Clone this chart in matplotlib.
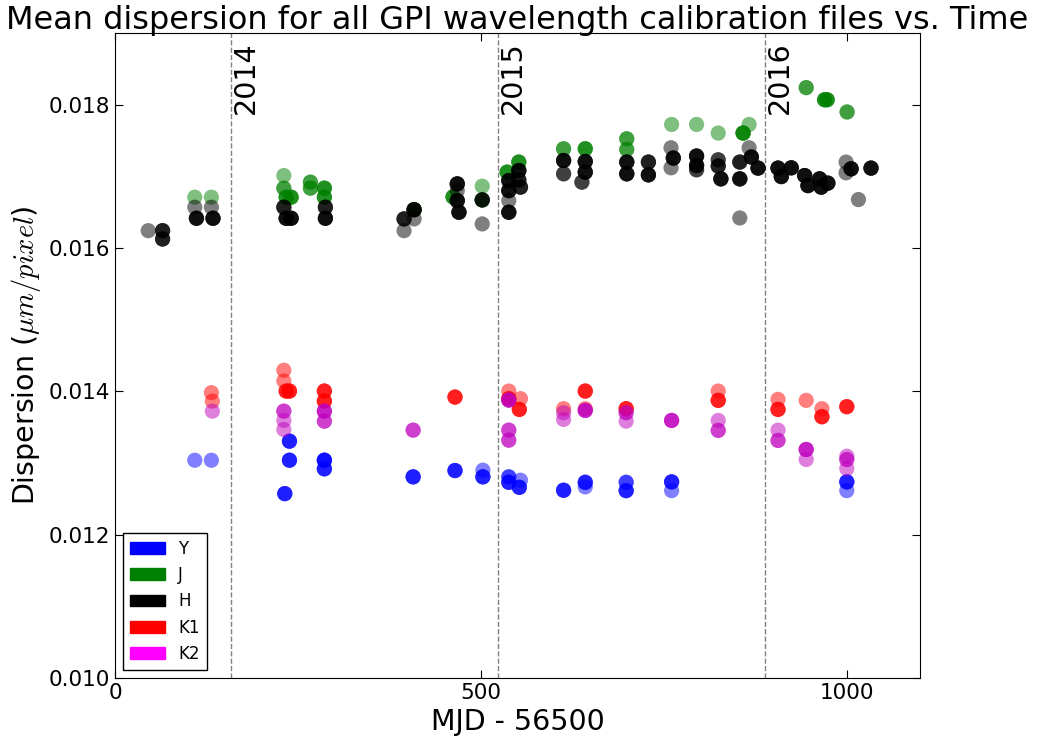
import matplotlib
matplotlib.use("Agg")
import matplotlib.pyplot as plt
import matplotlib.patches as mpatches
import numpy as np

# Each point: MJD-56500, mean dispersion, number of files at that value
y_mjd = [109, 131.7, 238.4, 238.4, 232, 286.1, 286.1, 407.4, 464.6, 502.7, 502.7,
         538.1, 538.1, 554.1, 552.5, 613, 642.6, 642.6, 698.5, 698.5, 760.6, 760.6,
         1000, 1000]
y_disp = [0.013039, 0.013039, 0.013305, 0.013039, 0.012573, 0.013039, 0.012919,
          0.012807, 0.012895, 0.012900, 0.012807, 0.012807, 0.012731, 0.012760,
          0.012661, 0.012620, 0.012731, 0.012667, 0.012731, 0.012615, 0.012737,
          0.012615, 0.012737, 0.012615]
y_n = [1, 1, 3, 3, 3, 4, 3, 3, 3, 1, 3, 2, 3, 1, 3, 3, 3, 1, 2, 3, 3, 1, 3, 1]

j_mjd = [109, 131.7, 230.7, 230.7, 233.9, 240.7, 267, 267, 286.1, 286.1, 408.7,
         461.9, 501.8, 501.8, 535.8, 551.8, 613, 642.6, 699.3, 699.3, 760.6, 794.7,
         824.3, 858.3, 866.5, 944.5, 969.6, 973.2, 1000.4]
j_disp = [0.016709, 0.016709, 0.017011, 0.016835, 0.016709, 0.016709, 0.016919,
          0.016835, 0.016835, 0.016709, 0.016535, 0.016713, 0.016863, 0.016671,
          0.017059, 0.017199, 0.017385, 0.017385, 0.017524, 0.017375, 0.017724,
          0.017724, 0.017604, 0.017604, 0.017724, 0.018238, 0.018069, 0.018069,
          0.017898]
j_n = [1, 1, 1, 2, 3, 3, 2, 2, 3, 3, 2, 3, 1, 2, 3, 3, 2, 3, 2, 2, 1, 1, 1, 4, 1,
       2, 3, 3, 2]

h_mjd = [45.4, 65, 65, 109, 131.7, 111.3, 133.9, 230.7, 233.9, 240.7, 287.5, 287.5,
         395, 395, 408.7, 408.7, 467.7, 467.7, 470, 467.7, 501.8, 501.8, 538.1,
         538.1, 538.1, 538.1, 551.8, 554.1, 551.8, 613, 613, 642.6, 642.6, 638,
         699.3, 699.3, 728.9, 728.9, 759.8, 762.9, 759.8, 794.7, 794.7, 794.7,
         824.3, 824.3, 827.9, 853.8, 853.8, 853.8, 866.5, 869.6, 878.7, 906, 910.5,
         924.1, 942.4, 946.9, 962.8, 965, 974.1, 999, 1005.9, 999, 1015.9, 1033.1]
h_disp = [0.016242, 0.016242, 0.016126, 0.016569, 0.016569, 0.016415, 0.016415,
          0.016569, 0.016415, 0.016415, 0.016569, 0.016415, 0.016242, 0.016406,
          0.016406, 0.016535, 0.016895, 0.016661, 0.016499, 0.016800, 0.016671,
          0.016336, 0.016499, 0.016661, 0.016801, 0.016941, 0.017081, 0.016849,
          0.016950, 0.017221, 0.017035, 0.017207, 0.017059, 0.016919, 0.017199,
          0.017035, 0.017199, 0.017021, 0.017399, 0.017255, 0.017119, 0.017283,
          0.017151, 0.017091, 0.017231, 0.017143, 0.016965, 0.017199, 0.016965,
          0.016419, 0.017399, 0.017269, 0.017115, 0.017115, 0.016997, 0.017119,
          0.017011, 0.016871, 0.016965, 0.016849, 0.016905, 0.017199, 0.017105,
          0.017049, 0.016676, 0.017115]
h_n = [1, 3, 3, 1, 1, 4, 4, 3, 4, 4, 3, 4, 1, 3, 1, 4, 4, 4, 4, 1, 3, 1, 4, 1, 4,
       4, 4, 3, 3, 4, 2, 4, 4, 2, 4, 4, 3, 4, 1, 4, 1, 4, 4, 2, 2, 3, 4, 3, 4, 1,
       1, 4, 4, 4, 4, 4, 4, 4, 4, 4, 4, 1, 4, 1, 1, 4]

k1_mjd = [131.7, 133, 230.7, 230.7, 233.9, 238.4, 286.1, 286.1, 464.6, 538.1, 538.1,
          554.1, 552.5, 613, 642.6, 642.6, 698.5, 824.3, 824.3, 906, 906, 944.5,
          966, 966, 1000]
k1_disp = [0.013982, 0.013864, 0.014294, 0.014144, 0.014004, 0.014004, 0.014004,
           0.013864, 0.013920, 0.014004, 0.013898, 0.013898, 0.013748, 0.013758,
           0.014004, 0.013758, 0.013758, 0.014004, 0.013874, 0.013888, 0.013748,
           0.013874, 0.013758, 0.013646, 0.013786]
k1_n = [1, 1, 1, 1, 3, 3, 3, 3, 3, 1, 3, 1, 3, 1, 3, 1, 3, 1, 3, 1, 3, 1, 1, 3, 3]

k2_mjd = [133, 230.7, 230.7, 230.7, 286.1, 286.1, 407.4, 538.1, 538.1, 538.1, 613,
          613, 642.6, 698.5, 698.5, 760.6, 824.3, 824.3, 906, 906, 944.5, 944.5,
          1000, 1000, 1000]
k2_disp = [0.013724, 0.013724, 0.013594, 0.013468, 0.013724, 0.013584, 0.013459,
           0.013878, 0.013459, 0.013319, 0.013702, 0.013608, 0.013734, 0.013702,
           0.013584, 0.013594, 0.013594, 0.013455, 0.013459, 0.013315, 0.013189,
           0.013049, 0.013095, 0.013049, 0.012923]
k2_n = [1, 2, 1, 1, 3, 2, 2, 3, 2, 2, 1, 1, 3, 2, 1, 3, 1, 2, 1, 2, 3, 1, 1, 2, 1]

years = ["2014", "2015", "2016"]
year_mjd = [158, 523, 888]

plt.rcParams["mathtext.fontset"] = "cm"

fig = plt.figure(figsize=(10.38, 7.45), dpi=100)
ax = fig.add_axes([0.1108, 0.0899, 0.7755, 0.8658])

series = [
    (y_mjd, y_disp, y_n, "blue"),
    (j_mjd, j_disp, j_n, "g"),
    (h_mjd, h_disp, h_n, "k"),
    (k1_mjd, k1_disp, k1_n, "r"),
    (k2_mjd, k2_disp, k2_n, "m"),
]
for mjd, disp, n, col in series:
    xs = np.repeat(mjd, n)
    ys = np.repeat(disp, n)
    ax.scatter(xs, ys, s=120, c=col, alpha=0.5, edgecolors="none", zorder=2)

for yr, m in zip(years, year_mjd):
    ax.axvline(m, color="gray", linestyle="--", linewidth=1, zorder=1)
    ax.text(m + 2, 0.01787, yr, rotation=90, fontsize=20.5, ha="left", va="bottom")

ax.set_xlim(0, 1100)
ax.set_ylim(0.010, 0.019)
ax.set_xticks([0, 500, 1000])
ax.set_yticks([0.010, 0.012, 0.014, 0.016, 0.018])
ax.set_yticklabels(["0.010", "0.012", "0.014", "0.016", "0.018"])
ax.tick_params(direction="in", top=True, right=True, labelsize=15.5, length=6)

ax.set_title("Mean dispersion for all GPI wavelength calibration files vs. Time",
             fontsize=23, pad=3)
ax.set_xlabel("MJD - 56500", fontsize=20.5)
ax.set_ylabel(r"Dispersion ($\mu m/pixel$)", fontsize=20.5)

handles = [
    mpatches.Patch(color="blue", label="Y"),
    mpatches.Patch(color="green", label="J"),
    mpatches.Patch(color="black", label="H"),
    mpatches.Patch(color="red", label="K1"),
    mpatches.Patch(color="magenta", label="K2"),
]
leg = ax.legend(handles=handles, loc="lower left", fontsize=12, fancybox=False,
                edgecolor="black", framealpha=1, handlelength=2.1,
                borderaxespad=0.5)
leg.get_frame().set_linewidth(1)

fig.savefig("out.png", dpi=100)
